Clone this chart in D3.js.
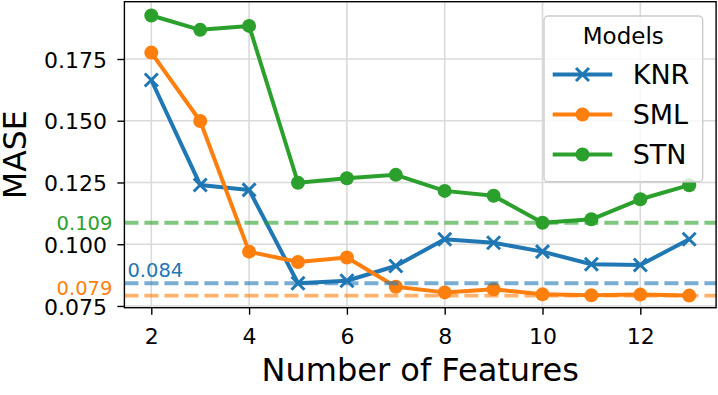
<!DOCTYPE html>
<html>
<head>
<meta charset="utf-8">
<script src="https://cdn.jsdelivr.net/npm/d3@7"></script>
<style>
  html, body { margin: 0; padding: 0; background: #fff; }
  svg { display: block; font-family: "DejaVu Sans", sans-serif; }
</style>
</head>
<body>
<div id="chart-container"></div>
<script>
// Data
const features = [2, 3, 4, 5, 6, 7, 8, 9, 10, 11, 12, 13];
const knr = [0.1665, 0.1240, 0.1220, 0.0842, 0.0852, 0.0912, 0.1020, 0.1006, 0.0970, 0.0919, 0.0916, 0.1020];
const sml = [0.1776, 0.1499, 0.0970, 0.0928, 0.0946, 0.0828, 0.0805, 0.0818, 0.0797, 0.0793, 0.0796, 0.0792];
const stn = [0.1926, 0.1868, 0.1884, 0.1249, 0.1267, 0.1281, 0.1216, 0.1196, 0.1087, 0.1101, 0.1182, 0.1239];
const modelNames = ["KNR", "SML", "STN"];
const xTicks = [2, 4, 6, 8, 10, 12];
const yTicks = [0.075, 0.100, 0.125, 0.150, 0.175];

const colors = ["#1f77b4", "#ff7f0e", "#2ca02c"];
const markers = ["x", "o", "o"];
const series = [knr, sml, stn].map((vals, i) => ({
    name: modelNames[i],
    color: colors[i],
    marker: markers[i],
    values: vals.map((v, j) => ({ x: features[j], y: v }))
}));

const width = 718, height = 395;
const margin = { top: 1.7, right: 1.9, bottom: 87.3, left: 124.4 };

const svg = d3.select("#chart-container")
    .append("svg")
    .attr("width", width)
    .attr("height", height);

const x = d3.scaleLinear()
    .domain([1.45, 13.55])
    .range([margin.left, width - margin.right]);

const y = d3.scaleLinear()
    .domain([0.0743, 0.1982])
    .range([height - margin.bottom, margin.top]);

// grid
const grid = svg.append("g");
grid.selectAll("line.gx")
    .data(xTicks)
    .join("line")
    .attr("x1", d => x(d)).attr("x2", d => x(d))
    .attr("y1", margin.top).attr("y2", height - margin.bottom)
    .attr("stroke", "#dadada").attr("stroke-width", 1.6);
grid.selectAll("line.gy")
    .data(yTicks)
    .join("line")
    .attr("y1", d => y(d)).attr("y2", d => y(d))
    .attr("x1", margin.left).attr("x2", width - margin.right)
    .attr("stroke", "#dadada").attr("stroke-width", 1.6);

// lines + markers
const line = d3.line().x(d => x(d.x)).y(d => y(d.y));

function drawMarker(g, type, color, cx, cy) {
    if (type === "x") {
        const s = 6.5;
        g.append("path")
            .attr("d", `M${cx - s},${cy - s}L${cx + s},${cy + s}M${cx - s},${cy + s}L${cx + s},${cy - s}`)
            .attr("stroke", color).attr("stroke-width", 3).attr("fill", "none");
    } else {
        g.append("circle")
            .attr("cx", cx).attr("cy", cy).attr("r", 7)
            .attr("fill", color);
    }
}

series.forEach(s => {
    const g = svg.append("g");
    g.append("path")
        .datum(s.values)
        .attr("d", line)
        .attr("fill", "none")
        .attr("stroke", s.color)
        .attr("stroke-width", 4)
        .attr("stroke-linejoin", "round");
    s.values.forEach(d => drawMarker(g, s.marker, s.color, x(d.x), y(d.y)));
});

// best (minimum) dashed lines
const best = series.map(s => ({ name: s.name, color: s.color, v: d3.min(s.values, d => d.y) }));
svg.append("g")
    .selectAll("line")
    .data(best)
    .join("line")
    .attr("x1", margin.left).attr("x2", width - margin.right)
    .attr("y1", d => y(d.v)).attr("y2", d => y(d.v))
    .attr("stroke", d => d.color)
    .attr("stroke-opacity", 0.6)
    .attr("stroke-width", 3.8)
    .attr("stroke-dasharray", "14,6");

// annotation labels for best values
const fmt = d => d.toFixed(3);
svg.append("text")
    .attr("x", margin.left + 3).attr("y", y(best[0].v) - 6.7)
    .attr("fill", best[0].color).attr("font-size", 19.5)
    .text(fmt(best[0].v));
svg.append("text")
    .attr("x", margin.left - 12).attr("y", y(best[1].v) - 1)
    .attr("text-anchor", "end")
    .attr("fill", best[1].color).attr("font-size", 19.5)
    .text(fmt(best[1].v));
svg.append("text")
    .attr("x", margin.left - 12).attr("y", y(best[2].v) + 7.5)
    .attr("text-anchor", "end")
    .attr("fill", best[2].color).attr("font-size", 19.5)
    .text(fmt(best[2].v));

// axes
const xAxis = svg.append("g")
    .attr("transform", `translate(0,${height - margin.bottom})`)
    .call(d3.axisBottom(x).tickValues(xTicks).tickSize(7).tickPadding(13.5).tickFormat(d3.format("d")));
const yAxis = svg.append("g")
    .attr("transform", `translate(${margin.left},0)`)
    .call(d3.axisLeft(y).tickValues(yTicks).tickSize(7).tickPadding(10.5).tickFormat(d3.format(".3f")));

[xAxis, yAxis].forEach(a => {
    a.select(".domain").remove();
    a.selectAll(".tick line").attr("stroke", "#000").attr("stroke-width", 1.4);
    a.selectAll(".tick text").attr("fill", "#000").attr("font-size", 22).attr("font-family", "DejaVu Sans");
});
yAxis.selectAll(".tick text").attr("dy", "0.37em");

// frame
svg.append("rect")
    .attr("x", margin.left).attr("y", margin.top)
    .attr("width", width - margin.left - margin.right)
    .attr("height", height - margin.top - margin.bottom)
    .attr("fill", "none").attr("stroke", "#000").attr("stroke-width", 1.4);

// axis labels
svg.append("text")
    .attr("x", (margin.left + width - margin.right) / 2)
    .attr("y", 381)
    .attr("text-anchor", "middle")
    .attr("font-size", 32)
    .text("Number of Features");
svg.append("text")
    .attr("transform", `translate(26,${(margin.top + height - margin.bottom) / 2}) rotate(-90)`)
    .attr("text-anchor", "middle")
    .attr("font-size", 31.5)
    .text("MASE");

// legend
const legend = svg.append("g").attr("transform", "translate(544,16)");
legend.append("rect")
    .attr("width", 158.7).attr("height", 165.7)
    .attr("rx", 4)
    .attr("fill", "#fff").attr("fill-opacity", 0.8)
    .attr("stroke", "#cccccc").attr("stroke-width", 1.4);
legend.append("text")
    .attr("x", 79.3).attr("y", 28.3)
    .attr("text-anchor", "middle")
    .attr("font-size", 23)
    .text("Models");
series.forEach((s, i) => {
    const base = 68 + i * 40;
    const ly = base - 9.5;
    const row = legend.append("g");
    row.append("line")
        .attr("x1", 8.7).attr("x2", 68.3)
        .attr("y1", ly).attr("y2", ly)
        .attr("stroke", s.color).attr("stroke-width", 4);
    drawMarker(row, s.marker, s.color, 38.5, ly);
    row.append("text")
        .attr("x", 88.7).attr("y", base)
        .attr("font-size", 27)
        .text(s.name);
});
</script>
</body>
</html>
